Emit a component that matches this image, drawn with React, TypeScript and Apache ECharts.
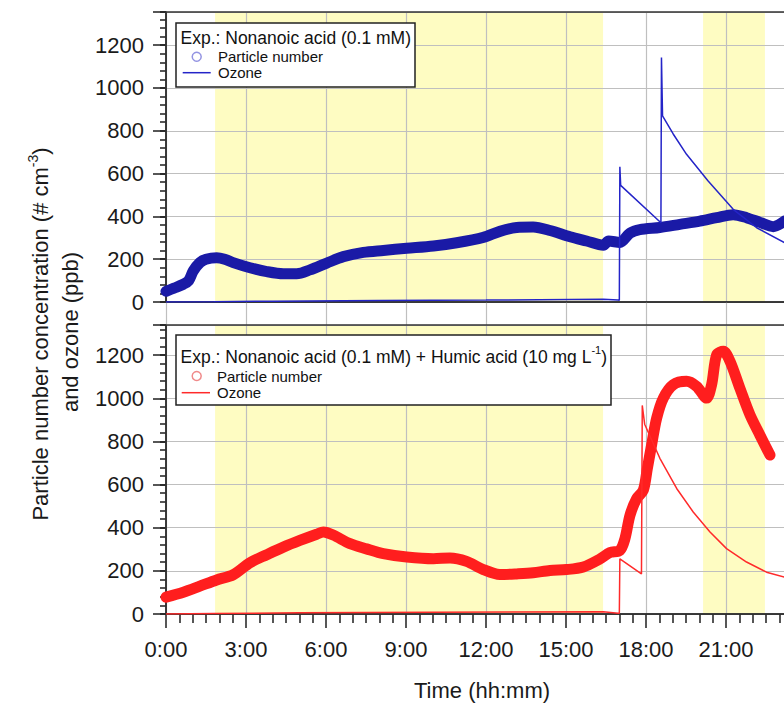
import React, { useEffect, useRef } from "react";
import * as echarts from "echarts";

const FONT = "'Liberation Sans', Arial, Helvetica, sans-serif";

// Time axis (hours) and shaded periods
const hourMax = 24;
const shadedPeriods: [number, number][] = [
  [1.84, 16.39],
  [20.14, 22.46],
];

// Top panel: Nonanoic acid (0.1 mM)
const topParticle: [number, number][] = [
  [0.0, 50], [0.3, 65], [0.65, 83], [0.85, 100], [1.02, 145], [1.27, 184],
  [1.5, 200], [1.9, 207], [2.2, 200], [2.52, 184], [3.15, 160], [3.78, 142],
  [4.4, 132], [4.9, 132], [5.4, 150], [6.03, 182], [6.65, 212], [7.4, 232],
  [8.15, 241], [9.03, 251], [10.03, 262], [10.9, 277], [11.9, 302], [12.52, 330],
  [13.15, 348], [13.77, 350], [14.4, 334], [15.15, 305], [15.77, 285], [16.4, 265],
  [16.6, 285], [17.02, 278], [17.4, 322], [17.77, 338], [18.52, 348], [19.27, 363],
  [20.02, 378], [20.65, 394], [21.27, 408], [21.77, 394], [22.27, 372], [22.77, 352],
  [23.2, 378],
];
const topOzone: [number, number][] = [
  [0, 0], [1.8, 1], [4, 4], [8, 7], [12, 9], [16.4, 13], [16.95, 9], [17.0, 8],
  [17.02, 632], [17.05, 545], [18.56, 370], [18.58, 1142], [18.62, 870],
  [19.02, 785], [19.52, 690], [20.33, 565], [21.27, 433], [22.15, 347], [23.2, 277],
];

// Bottom panel: Nonanoic acid (0.1 mM) + Humic acid (10 mg/L)
const bottomParticle: [number, number][] = [
  [0.0, 78], [0.65, 101], [1.27, 129], [1.9, 158], [2.52, 182], [3.15, 238],
  [3.78, 275], [4.4, 310], [5.02, 341], [5.65, 370], [5.9, 380], [6.27, 366],
  [6.9, 326], [7.52, 302], [8.15, 280], [9.03, 264], [10.03, 256], [10.65, 260],
  [11.27, 244], [11.9, 206], [12.52, 183], [13.15, 186], [13.77, 191], [14.4, 202],
  [15.02, 206], [15.65, 218], [16.27, 255], [16.65, 285], [17.02, 295], [17.21, 349],
  [17.4, 458], [17.65, 535], [17.9, 574], [18.05, 675], [18.21, 784], [18.4, 908],
  [18.65, 1001], [19.02, 1063], [19.52, 1079], [19.9, 1055], [20.27, 1001],
  [20.46, 1063], [20.65, 1202], [20.9, 1218], [21.15, 1172], [21.52, 1047],
  [21.9, 923], [22.27, 830], [22.65, 737],
];
const bottomOzone: [number, number][] = [
  [0, 0], [1.8, 2], [5, 6], [10, 8], [16.4, 10], [16.95, 4], [17.0, 3],
  [17.02, 256], [17.83, 186], [17.86, 967], [17.95, 880], [18.52, 722],
  [19.15, 582], [19.77, 473], [20.4, 380], [21.02, 303], [21.77, 241],
  [22.52, 194], [23.2, 171],
];

const TOP_MAX = 1355;
const BOTTOM_MAX = 1340;
const GRID_COLOR = "#bfbfbf";
const AXIS_COLOR = "#1e1e1e";

function mainY(gridIndex: number, max: number) {
  return {
    type: "value",
    gridIndex,
    position: "left",
    offset: 0,
    min: 0,
    max,
    interval: 200,
    z: 1.5,
    axisLine: { show: true, onZero: false, lineStyle: { color: AXIS_COLOR, width: 1.5 } },
    axisTick: { show: true, inside: false, length: 13, lineStyle: { color: AXIS_COLOR, width: 1.5 } },
    axisLabel: {
      show: true,
      margin: 22,
      fontSize: 22,
      fontFamily: FONT,
      color: "#1a1a1a",
      formatter: (v: number) => (Math.abs(v % 200) < 1e-6 ? String(v) : ""),
    },
    splitLine: { show: true, lineStyle: { color: GRID_COLOR, width: 1.2 } },
  };
}

function minorY(gridIndex: number, max: number) {
  return {
    type: "value",
    gridIndex,
    position: "left",
    offset: 0,
    min: 0,
    max,
    interval: 40,
    z: 1.5,
    axisLine: { show: false },
    axisTick: { show: true, inside: false, length: 6, lineStyle: { color: AXIS_COLOR, width: 1.5 } },
    axisLabel: { show: false },
    splitLine: { show: false },
  };
}

function shadeSeries(xAxisIndex: number, yAxisIndex: number) {
  return {
    type: "line",
    xAxisIndex,
    yAxisIndex,
    data: [],
    symbol: "none",
    silent: true,
    z: 1,
    markArea: {
      silent: true,
      itemStyle: { color: "#fefcc2" },
      data: shadedPeriods.map(([a, b]) => [{ xAxis: a }, { xAxis: b }]),
    },
  };
}

export default function App() {
  const ref = useRef<HTMLDivElement>(null);

  useEffect(() => {
    if (!ref.current) return;
    const chart = echarts.init(ref.current, null, { renderer: "svg" });

    const gridBase = {
      left: 166,
      width: 640,
      show: true,
      borderColor: "#333",
      borderWidth: 1.5,
      z: 3,
      backgroundColor: "transparent",
      containLabel: false,
      outerBoundsMode: "none",
    };

    const option: any = {
      animation: false,
      backgroundColor: "#ffffff",
      textStyle: { fontFamily: FONT },
      grid: [
        { ...gridBase, top: 12, height: 290 },
        { ...gridBase, top: 325, height: 289 },
      ],
      xAxis: [
        {
          type: "value",
          gridIndex: 0,
          position: "bottom",
          min: 0,
          max: hourMax,
          interval: 3,
          z: 1.5,
          axisLine: { show: true, onZero: false, lineStyle: { color: AXIS_COLOR, width: 1.5 } },
          axisTick: { show: true, inside: false, length: 23, lineStyle: { color: GRID_COLOR, width: 1.2 } },
          axisLabel: { show: false },
          splitLine: { show: true, lineStyle: { color: GRID_COLOR, width: 1.2 } },
        },
        {
          type: "value",
          gridIndex: 1,
          position: "bottom",
          min: 0,
          max: hourMax,
          interval: 3,
          z: 1.5,
          axisLine: { show: true, onZero: false, lineStyle: { color: AXIS_COLOR, width: 1.5 } },
          axisTick: { show: true, inside: false, length: 14, lineStyle: { color: AXIS_COLOR, width: 1.5 } },
          minorTick: { show: true, splitNumber: 6, length: 9, lineStyle: { color: AXIS_COLOR, width: 1.5 } },
          axisLabel: {
            show: true,
            margin: 24,
            fontSize: 22,
            fontFamily: FONT,
            color: "#1a1a1a",
            formatter: (v: number) => (v % 3 === 0 && v <= 21 ? `${v}:00` : ""),
          },
          splitLine: { show: true, lineStyle: { color: GRID_COLOR, width: 1.2 } },
        },
      ],
      yAxis: [mainY(0, TOP_MAX), minorY(0, TOP_MAX), mainY(1, BOTTOM_MAX), minorY(1, BOTTOM_MAX)],
      series: [
        shadeSeries(0, 0),
        shadeSeries(1, 2),
        {
          name: "Particle number (top)",
          type: "line",
          xAxisIndex: 0,
          yAxisIndex: 0,
          data: topParticle,
          symbol: "none",
          smooth: 0.3,
          z: 3,
          lineStyle: { color: "#1a1aa6", width: 11, cap: "round", join: "round" },
        },
        {
          name: "Ozone (top)",
          type: "line",
          xAxisIndex: 0,
          yAxisIndex: 0,
          data: topOzone,
          symbol: "none",
          z: 4,
          lineStyle: { color: "#2424c8", width: 1.5 },
        },
        {
          name: "Particle number (bottom)",
          type: "line",
          xAxisIndex: 1,
          yAxisIndex: 2,
          data: bottomParticle,
          symbol: "none",
          smooth: 0.3,
          z: 3,
          lineStyle: { color: "#ff1e1e", width: 11, cap: "round", join: "round" },
        },
        {
          name: "Ozone (bottom)",
          type: "line",
          xAxisIndex: 1,
          yAxisIndex: 2,
          data: bottomOzone,
          symbol: "none",
          z: 4,
          lineStyle: { color: "#ff2a2a", width: 1.5 },
        },
      ],
      graphic: [
        // Y axis title
        {
          type: "text",
          x: 40,
          y: 334,
          rotation: Math.PI / 2,
          z: 100,
          style: {
            text: "Particle number concentration (# cm{sup|-3})",
            fontSize: 22,
            fontFamily: FONT,
            fill: "#1a1a1a",
            align: "center",
            verticalAlign: "middle",
            lineHeight: 28,
            rich: {
              sup: { fontSize: 14, fontFamily: FONT, fill: "#1a1a1a", verticalAlign: "top", lineHeight: 14 },
            },
          },
        },
        {
          type: "text",
          x: 70,
          y: 332,
          rotation: Math.PI / 2,
          z: 100,
          style: {
            text: "and ozone (ppb)",
            fontSize: 22,
            fontFamily: FONT,
            fill: "#1a1a1a",
            align: "center",
            verticalAlign: "middle",
          },
        },
        // X axis title
        {
          type: "text",
          x: 482,
          y: 690,
          z: 100,
          style: {
            text: "Time (hh:mm)",
            fontSize: 22,
            fontFamily: FONT,
            fill: "#1a1a1a",
            align: "center",
            verticalAlign: "middle",
          },
        },
        // Top legend
        {
          type: "rect",
          z: 100,
          shape: { x: 176, y: 23, width: 239, height: 64 },
          style: { fill: "#ffffff", stroke: "#222", lineWidth: 1.5 },
        },
        {
          type: "text",
          x: 180.5,
          y: 37.5,
          z: 101,
          style: { text: "Exp.: Nonanoic acid (0.1 mM)", fontSize: 17.5, fontFamily: FONT, fill: "#111", align: "left", verticalAlign: "middle" },
        },
        {
          type: "circle",
          z: 101,
          shape: { cx: 196.7, cy: 56.7, r: 4.5 },
          style: { fill: "none", stroke: "#9494e2", lineWidth: 1.5 },
        },
        {
          type: "text",
          x: 218,
          y: 56.7,
          z: 101,
          style: { text: "Particle number", fontSize: 15, fontFamily: FONT, fill: "#111", align: "left", verticalAlign: "middle" },
        },
        {
          type: "line",
          z: 101,
          shape: { x1: 182.7, y1: 72.7, x2: 210.7, y2: 72.7 },
          style: { stroke: "#2424c8", lineWidth: 1.5 },
        },
        {
          type: "text",
          x: 218,
          y: 72.7,
          z: 101,
          style: { text: "Ozone", fontSize: 15, fontFamily: FONT, fill: "#111", align: "left", verticalAlign: "middle" },
        },
        // Bottom legend
        {
          type: "rect",
          z: 100,
          shape: { x: 176, y: 335, width: 435, height: 70 },
          style: { fill: "#ffffff", stroke: "#222", lineWidth: 1.5 },
        },
        {
          type: "text",
          x: 180.5,
          y: 356.7,
          z: 101,
          style: {
            text: "Exp.: Nonanoic acid (0.1 mM) + Humic acid (10 mg L{sup|-1})",
            fontSize: 17.5,
            fontFamily: FONT,
            fill: "#111",
            align: "left",
            verticalAlign: "middle",
            lineHeight: 24,
            rich: {
              sup: { fontSize: 11, fontFamily: FONT, fill: "#111", verticalAlign: "top", lineHeight: 11 },
            },
          },
        },
        {
          type: "circle",
          z: 101,
          shape: { cx: 196.7, cy: 376, r: 4.5 },
          style: { fill: "none", stroke: "#f08a8a", lineWidth: 1.5 },
        },
        {
          type: "text",
          x: 217,
          y: 376,
          z: 101,
          style: { text: "Particle number", fontSize: 15, fontFamily: FONT, fill: "#111", align: "left", verticalAlign: "middle" },
        },
        {
          type: "line",
          z: 101,
          shape: { x1: 181.7, y1: 392.7, x2: 210, y2: 392.7 },
          style: { stroke: "#ff2a2a", lineWidth: 1.5 },
        },
        {
          type: "text",
          x: 217,
          y: 392.7,
          z: 101,
          style: { text: "Ozone", fontSize: 15, fontFamily: FONT, fill: "#111", align: "left", verticalAlign: "middle" },
        },
      ],
    };

    chart.setOption(option);
    return () => chart.dispose();
  }, []);

  return (
    <div
      ref={ref}
      style={{ position: "fixed", left: 0, top: 0, width: 784, height: 704, background: "#fff" }}
    />
  );
}
